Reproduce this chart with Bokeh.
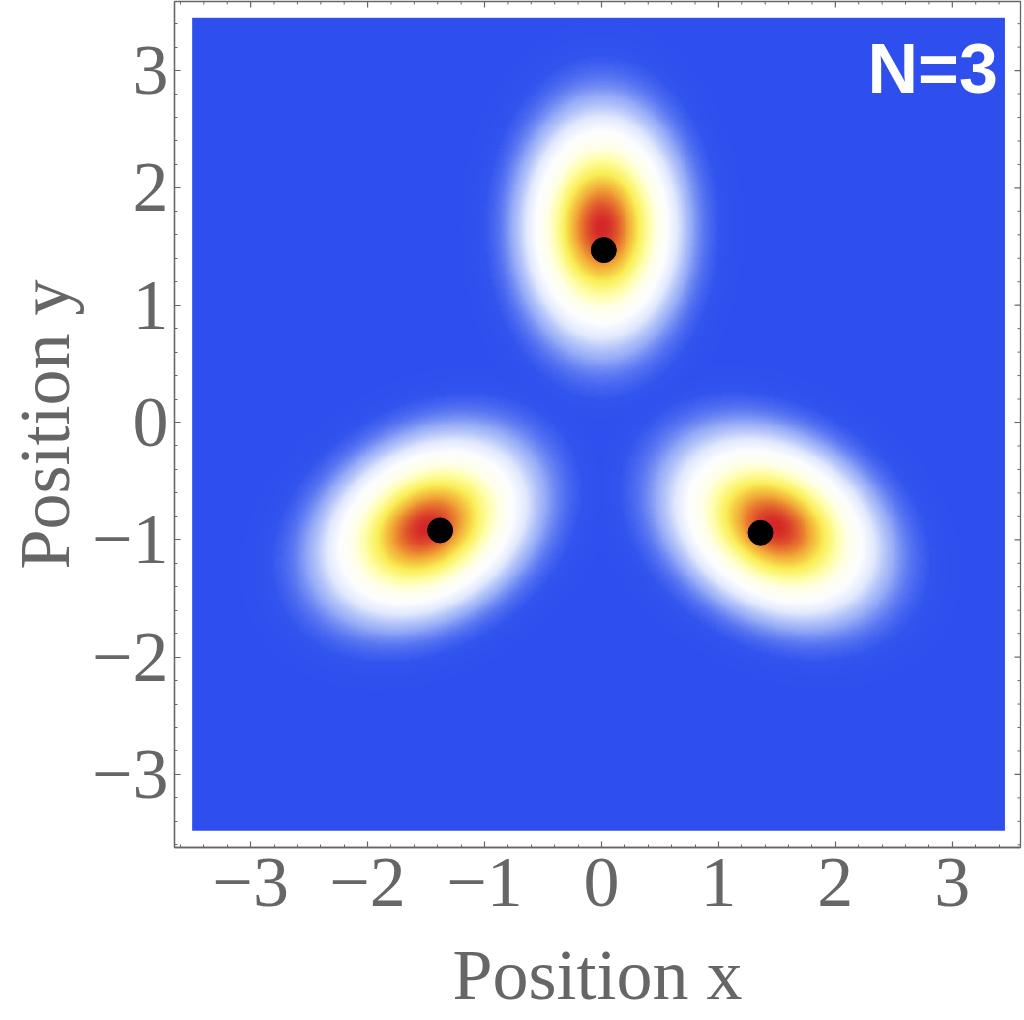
import numpy as np
from bokeh.plotting import figure
from bokeh.models import (SingleIntervalTicker, CustomJSTickFormatter,
                          LinearColorMapper, Label, Range1d)
from bokeh.embed import file_html
from bokeh.resources import INLINE

# ---- data -------------------------------------------------------------
# three density lobes
lobe_angle_deg = [90.0, 211.0, 329.0]
lobe_radius = [1.66, 1.75, 1.73]
lobe_radial_stretch = [1.46, 1.36, 1.36]   # radial / tangential extent ratio
lobe_size = [0.55, 0.57, 0.57]             # tangential width scale

# equilibrium positions (black dots)
dot_x = [0.02, -1.38, 1.36]
dot_y = [1.47, -0.92, -0.94]

# image extent
img_x_min, img_x_max = -3.50, 3.45
img_y_min, img_y_max = -3.48, 3.45

# axis ranges and ticks
x_lo, x_hi = -3.651, 3.583
y_lo, y_hi = -3.623, 3.589
major_ticks = [-3, -2, -1, 0, 1, 2, 3]

label_text = "N=3"
x_title = "Position x"
y_title = "Position y"

# ---- density field ----------------------------------------------------
nx, ny = 420, 420
xs = np.linspace(img_x_min, img_x_max, nx)
ys = np.linspace(img_y_min, img_y_max, ny)
X, Y = np.meshgrid(xs, ys)
dens = np.zeros_like(X)
for ang, rad, st, sz in zip(lobe_angle_deg, lobe_radius, lobe_radial_stretch, lobe_size):
    th = np.radians(ang)
    ux, uy = np.cos(th), np.sin(th)
    dx = X - rad * ux
    dy = Y - rad * uy
    dr = dx * ux + dy * uy
    dt = -dx * uy + dy * ux
    rho = np.sqrt((dr / st) ** 2 + dt ** 2)
    v = np.exp(-(rho / sz) ** 2)
    dens = np.maximum(dens, v)

# colour map (blue -> white -> yellow -> red)
stops = [
    (0.00, (46, 78, 238)),
    (0.03, (49, 83, 238)),
    (0.07, (82, 112, 241)),
    (0.14, (150, 172, 247)),
    (0.25, (226, 233, 253)),
    (0.35, (252, 253, 255)),
    (0.48, (255, 255, 232)),
    (0.59, (255, 254, 168)),
    (0.72, (250, 238, 85)),
    (0.84, (242, 172, 55)),
    (0.93, (228, 100, 45)),
    (1.00, (212, 40, 40)),
]
pal = []
for i in range(256):
    t = i / 255
    for (a, ca), (b, cb) in zip(stops[:-1], stops[1:]):
        if a <= t <= b:
            f = (t - a) / (b - a)
            c = [int(round(ca[k] + f * (cb[k] - ca[k]))) for k in range(3)]
            pal.append("#%02x%02x%02x" % tuple(c))
            break
mapper = LinearColorMapper(palette=pal, low=0, high=1)

GRAY = "#666666"

# ---- figure -----------------------------------------------------------
p = figure(x_range=Range1d(x_lo, x_hi), y_range=Range1d(y_lo, y_hi),
           frame_width=846, frame_height=846,
           output_backend="svg", toolbar_location=None,
           min_border_left=174, min_border_right=4, min_border_top=1, min_border_bottom=0)
p.outline_line_color = GRAY
p.outline_line_width = 1.3
p.grid.visible = False
p.background_fill_color = "white"
p.border_fill_color = "white"

p.image(image=[dens], x=img_x_min, y=img_y_min,
        dw=img_x_max - img_x_min, dh=img_y_max - img_y_min, color_mapper=mapper)

p.scatter(dot_x, dot_y, size=25, color="black")

# ticks on the top and right frame edges (inward)
minor_ticks = [v for v in np.round(np.arange(-3.6, 3.61, 0.2), 2)
               if abs(v - round(v)) > 1e-6]
p.scatter(major_ticks, [y_hi] * len(major_ticks), marker="dash", size=12,
          angle=np.pi / 2, line_color=GRAY, line_width=1.2)
p.scatter(minor_ticks, [y_hi] * len(minor_ticks), marker="dash", size=6,
          angle=np.pi / 2, line_color=GRAY, line_width=1.0)
p.scatter([x_hi] * len(major_ticks), major_ticks, marker="dash", size=12,
          line_color=GRAY, line_width=1.2)
p.scatter([x_hi] * len(minor_ticks), minor_ticks, marker="dash", size=6,
          line_color=GRAY, line_width=1.0)

p.add_layout(Label(x=3.39, y=3.01, text=label_text, text_align="right",
                   text_baseline="alphabetic", text_font_size="70px",
                   text_font_style="bold", text_color="white",
                   text_font="Liberation Sans"))

fmt_code = "return tick < 0 ? '\u2212' + Math.abs(tick) : String(tick);"


def style(ax, standoff):
    ax.ticker = SingleIntervalTicker(interval=1, num_minor_ticks=5)
    ax.major_tick_in = 6
    ax.major_tick_out = 0
    ax.minor_tick_in = 3
    ax.minor_tick_out = 0
    ax.axis_line_color = GRAY
    ax.major_tick_line_color = GRAY
    ax.minor_tick_line_color = GRAY
    ax.axis_line_width = 1.3
    ax.major_tick_line_width = 1.2
    ax.minor_tick_line_width = 1.0
    ax.formatter = CustomJSTickFormatter(code=fmt_code)
    ax.major_label_text_font = "Liberation Serif"
    ax.major_label_text_font_size = "72px"
    ax.major_label_text_color = GRAY
    ax.major_label_standoff = standoff
    ax.axis_label_text_font = "Liberation Serif"
    ax.axis_label_text_font_size = "72px"
    ax.axis_label_text_font_style = "normal"
    ax.axis_label_text_color = GRAY


xa = p.xaxis[0]
ya = p.yaxis[0]
style(xa, 11)
style(ya, 6)
xa.axis_label = x_title
xa.axis_label_standoff = 26
ya.axis_label = y_title
ya.axis_label_standoff = 4

open("out.html", "w").write(file_html(p, INLINE))
